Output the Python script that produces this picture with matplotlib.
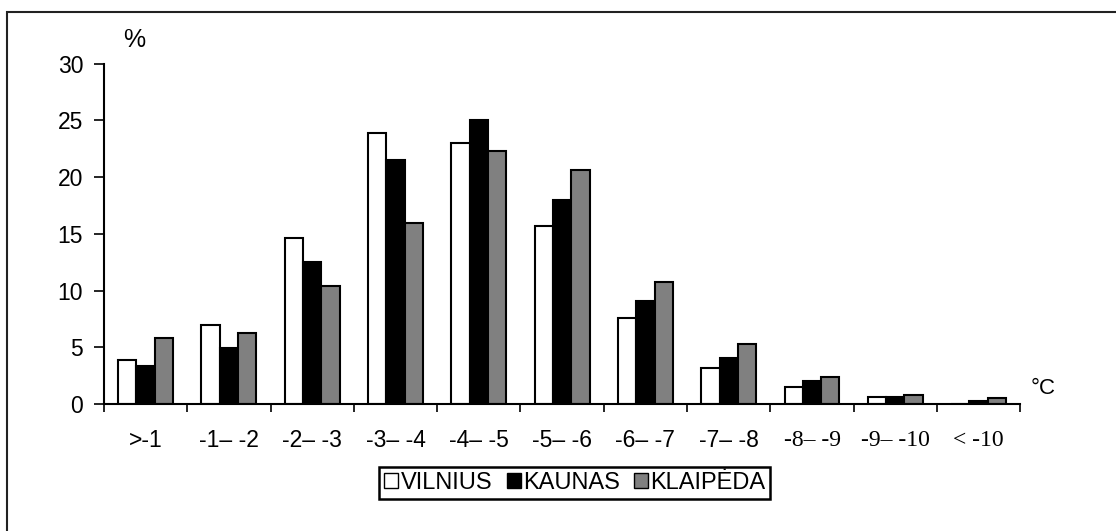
import numpy as np
import matplotlib.pyplot as plt
from matplotlib.patches import Rectangle

# intervalai (°C) ir dažniai (%)
categories = [">-1", "-1– -2", "-2– -3", "-3– -4", "-4– -5", "-5– -6",
              "-6– -7", "-7– -8", "-8– -9", "-9– -10", "< -10"]
vilnius = [3.9, 7.0, 14.6, 23.9, 23.0, 15.7, 7.6, 3.2, 1.5, 0.6, 0.0]
kaunas = [3.4, 4.9, 12.5, 21.5, 25.0, 18.0, 9.1, 4.1, 2.0, 0.6, 0.3]
klaipeda = [5.8, 6.3, 10.4, 16.0, 22.3, 20.6, 10.8, 5.3, 2.4, 0.8, 0.5]
series_names = ["VILNIUS", "KAUNAS", "KLAIPĖDA"]
colors = ["white", "black", "#808080"]

plt.rcParams['font.family'] = ['Liberation Sans', 'DejaVu Sans']

fig = plt.figure(figsize=(11.16, 5.31), dpi=100)
ax = fig.add_axes([0.0932, 0.239, 0.821, 0.641])

x = np.arange(len(categories))
w = 0.22
for i, (vals, name, col) in enumerate(zip([vilnius, kaunas, klaipeda], series_names, colors)):
    ax.bar(x + (i - 1) * w, vals, w, color=col, edgecolor="black", linewidth=1.5, label=name)

ax.set_xlim(-0.5, len(categories) - 0.5)
ax.set_ylim(0, 30)
ax.set_yticks([0, 5, 10, 15, 20, 25, 30])
ax.tick_params(axis='y', labelsize=16.5, length=7, width=1.2, direction='out', pad=8)

# ticks between groups, labels in the middle
ax.set_xticks(np.arange(-0.5, len(categories), 1.0))
ax.set_xticklabels([])
ax.tick_params(axis='x', length=6, width=1.2, direction='out')
for i, lab in enumerate(categories):
    if i >= 8:
        ax.text(i, -3.25, lab, ha='center', va='center', fontsize=17,
                family=['Liberation Serif', 'DejaVu Serif'])
    else:
        ax.text(i, -3.25, lab, ha='center', va='center', fontsize=16.5,
                family=['Liberation Sans', 'DejaVu Sans'])

for s in ['top', 'right']:
    ax.spines[s].set_visible(False)
for s in ['left', 'bottom']:
    ax.spines[s].set_linewidth(1.5)

ax.text(0.021, 1.035, "%", transform=ax.transAxes, fontsize=18, ha='left', va='bottom')
ax.text(1.011, 0.015, "°C", transform=ax.transAxes, fontsize=16, ha='left', va='bottom')

leg = ax.legend(loc='center', bbox_to_anchor=(0.514, -0.232), ncol=3, fontsize=17,
                frameon=True, fancybox=False, edgecolor='black', framealpha=1,
                handlelength=0.6, handleheight=0.6, handletextpad=0.1,
                columnspacing=0.6, borderpad=0.2, borderaxespad=0)
leg.get_frame().set_linewidth(1.8)
for h in leg.legend_handles:
    h.set_linewidth(1.0)

# outer frame (only top and left visible in the crop)
fig.patches.append(Rectangle((0.0067, -0.1), 1.1, 1.0774, transform=fig.transFigure,
                             fill=False, edgecolor='#222222', linewidth=1.5))

fig.savefig("out.png", dpi=100)
